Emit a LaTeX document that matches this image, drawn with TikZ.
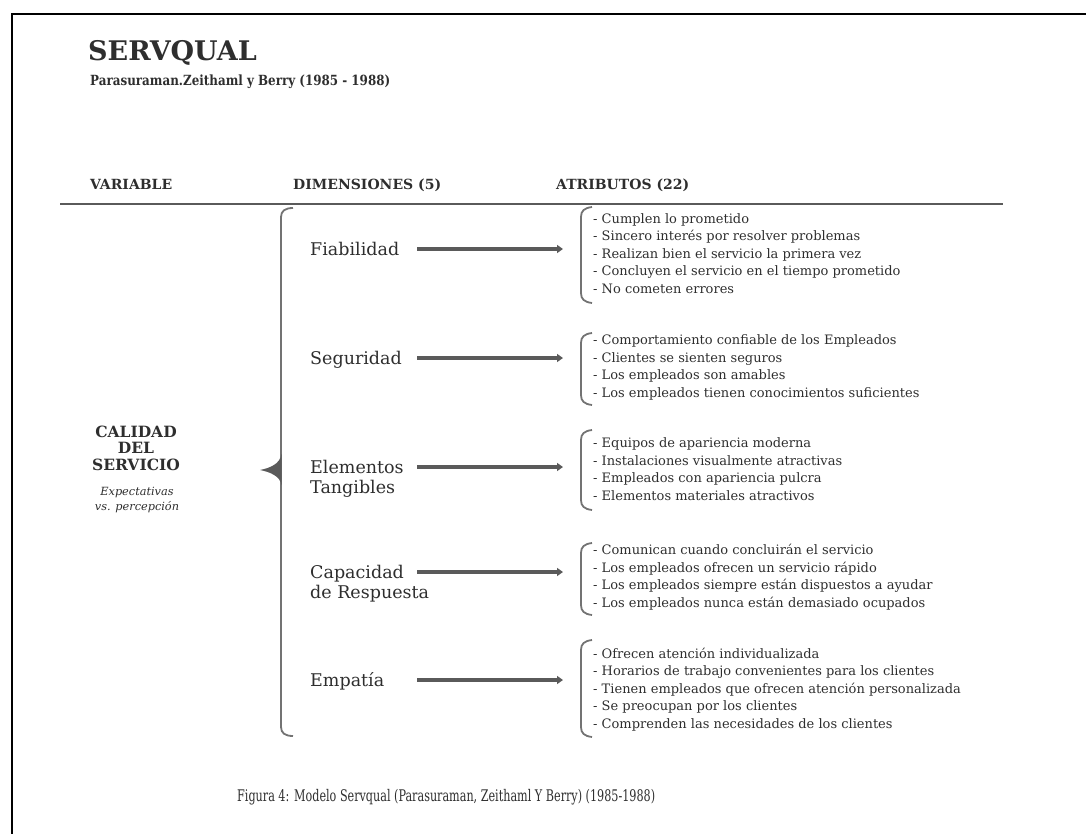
\documentclass[tikz,border=0pt]{standalone}
\usepackage{fontspec}
\setmainfont{DejaVu Serif}
\usetikzlibrary{arrows.meta}
\definecolor{texto}{HTML}{2E2E2E}
\definecolor{linea}{HTML}{5A5A5A}

\begin{document}
\begin{tikzpicture}[x=1pt, y=-1pt, every node/.style={inner sep=0pt, text=texto},
  titulo/.style={anchor=base west, font=\bfseries\fontsize{27}{30}\selectfont},
  cabecera/.style={anchor=base west, font=\bfseries\fontsize{14}{16}\selectfont},
  dimension/.style={anchor=base west, align=left, font=\fontsize{17.5}{20}\selectfont},
  atributos/.style={anchor=base west, align=left, font=\fontsize{13}{17.4}\selectfont},
  flecha/.style={draw=linea, line width=4pt, -{Triangle[length=6pt, width=8pt]}},
  corchete/.style={draw=linea!85, line width=1.8pt}]
\useasboundingbox (0,0) rectangle (1086,834);
\draw[line width=2pt] (12,834) -- (12,14) -- (1086,14);
\node[titulo] (serv) at (88,61) {SERVQUAL};
\node[anchor=base west, font=\bfseries\fontsize{14}{16}\selectfont] (autores) at (90,86) {\resizebox{300pt}{\height}{Parasuraman.Zeithaml y Berry (1985 - 1988)}};
\node[cabecera] (hvar) at (90,190) {VARIABLE};
\node[cabecera] (hdim) at (293,190) {DIMENSIONES (5)};
\node[cabecera] (hatr) at (556,190) {ATRIBUTOS (22)};
\draw[draw=linea, line width=2.5pt] (60,204) -- (1003,204);
% variable
\node[align=center, font=\bfseries\fontsize{15.5}{16.5}\selectfont] (calidad) at (136,448) {CALIDAD\\DEL\\SERVICIO};
\node[align=center, font=\itshape\fontsize{11.3}{15.5}\selectfont] (expect) at (137,500) {Expectativas\\vs. percepción};
% llave grande
\draw[corchete] (293,208) .. controls (285,208) and (281,211) .. (281,217) -- (281,727) .. controls (281,733) and (285,736) .. (293,736);
\fill[linea] (281.5,454) .. controls (280,464) and (270,468) .. (260,470) .. controls (270,472) and (280,476) .. (281.5,485) -- cycle;
% dimensiones
\node[dimension] (fia) at (310,255) {Fiabilidad};
\node[dimension] (seg) at (310,364) {Seguridad};
\node[dimension] (ele) at (310,493) {Elementos\\Tangibles};
\node[dimension] (cap) at (310,598) {Capacidad\\de Respuesta};
\node[dimension] (emp) at (310,686) {Empatía};
\foreach \n/\y in {1/249, 2/358, 3/467, 4/572, 5/680} {
  \coordinate (s\n) at (417,\y);
  \coordinate (e\n) at (563,\y);
  \draw[flecha] (s\n) -- (e\n);
}
\foreach \t/\b in {207/303, 333/405, 430/510, 543/615, 640/737}
  \draw[corchete] (592,\t) .. controls (584,\t+1) and (581,\t+4) .. (581,\t+10) -- (581,\b-10) .. controls (581,\b-4) and (584,\b-1) .. (592,\b);
% atributos
\node[atributos] (lfia) at (593,293) {- Cumplen lo prometido\\- Sincero interés por resolver problemas\\- Realizan bien el servicio la primera vez\\- Concluyen el servicio en el tiempo prometido\\- No cometen errores};
\node[atributos] (lseg) at (593,397) {- Comportamiento confiable de los Empleados\\- Clientes se sienten seguros\\- Los empleados son amables\\- Los empleados tienen conocimientos suficientes};
\node[atributos] (lele) at (593,500) {- Equipos de apariencia moderna\\- Instalaciones visualmente atractivas\\- Empleados con apariencia pulcra\\- Elementos materiales atractivos};
\node[atributos] (lcap) at (593,607) {- Comunican cuando concluirán el servicio\\- Los empleados ofrecen un servicio rápido\\- Los empleados siempre están dispuestos a ayudar\\- Los empleados nunca están demasiado ocupados};
\node[atributos] (lemp) at (593,728) {- Ofrecen atención individualizada\\- Horarios de trabajo convenientes para los clientes\\- Tienen empleados que ofrecen atención personalizada\\- Se preocupan por los clientes\\- Comprenden las necesidades de los clientes};
% pie
\node[anchor=base west, font=\fontsize{16}{18}\selectfont] (pie) at (237,801) {\resizebox{418pt}{\height}{Figura 4: Modelo Servqual (Parasuraman, Zeithaml Y Berry) (1985-1988)}};
\end{tikzpicture}
\end{document}
